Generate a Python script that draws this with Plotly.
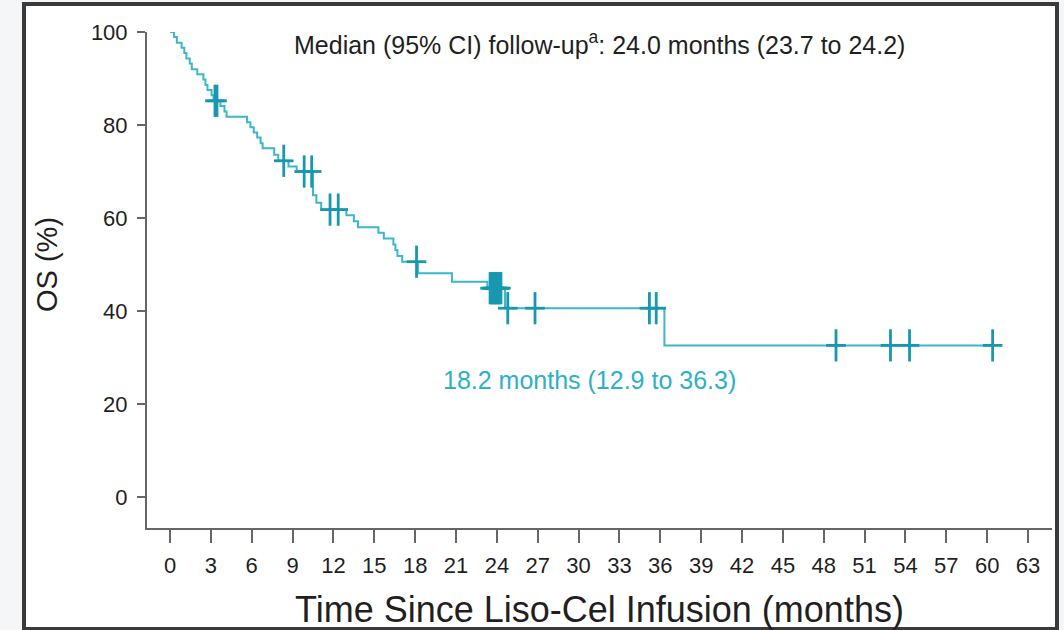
import plotly.graph_objects as go

# Kaplan-Meier overall survival: event times (months) and survival (%) after each step
event_months = [0.3, 0.5, 0.85, 1.05, 1.2, 1.45, 1.6, 2.0, 2.45, 2.6, 2.75, 3.05, 3.2,
                3.7, 4.0, 4.15, 5.65, 5.9, 6.15, 6.4, 6.65, 6.8, 7.65, 7.95, 8.7, 9.3,
                10.5, 10.75, 11.1, 12.95, 13.5, 13.8, 15.3, 15.7, 16.4, 16.55, 16.7, 17.05,
                18.2, 20.7, 23.3, 24.6, 36.3]
event_surv = [98.9, 97.7, 96.6, 95.5, 94.3, 93.2, 92.0, 90.9, 89.8, 88.6, 87.5, 86.4, 85.2,
              84.1, 82.9, 81.8, 80.6, 79.5, 78.4, 77.3, 76.1, 75.0, 73.6, 72.3, 71.1, 70.0,
              64.9, 63.3, 61.8, 60.6, 59.3, 58.0, 56.8, 55.6, 54.3, 53.1, 51.8, 50.6,
              48.1, 46.3, 44.9, 40.6, 32.6]
last_month = 60.4

# Censored observations
censor_months = [3.3, 3.45, 8.35, 9.85, 10.4, 11.75, 12.35, 18.1,
                 23.5, 23.6, 23.7, 23.8, 23.9, 24.0, 24.1, 24.2, 24.3,
                 24.8, 26.8, 35.2, 35.7, 48.9, 52.9, 54.3, 60.4]
censor_surv = [85.2, 85.2, 72.3, 70.0, 70.0, 61.8, 61.8, 50.6,
               44.9, 44.9, 44.9, 44.9, 44.9, 44.9, 44.9, 44.9, 44.9,
               40.6, 40.6, 40.6, 40.6, 32.6, 32.6, 32.6, 32.6]

x_ticks = list(range(0, 64, 3))
y_ticks = [0, 20, 40, 60, 80, 100]

followup_text = "Median (95% CI) follow-up<sup>a</sup>: 24.0 months (23.7 to 24.2)"
median_text = "18.2 months (12.9 to 36.3)"

LINE = "#3cb6cb"
MARK = "#1798af"
FONT = "Liberation Sans, Arial, sans-serif"
TEXT = "#1f1f1f"

curve_x = [0] + event_months + [last_month]
curve_y = [100] + event_surv + [event_surv[-1]]

fig = go.Figure()
fig.add_trace(go.Scatter(x=curve_x, y=curve_y, mode="lines", line_shape="hv",
                         line=dict(color=LINE, width=2), hoverinfo="skip",
                         showlegend=False, cliponaxis=False))
fig.add_trace(go.Scatter(x=censor_months, y=censor_surv, mode="markers",
                         marker=dict(symbol="line-ns", size=23,
                                     line=dict(color=MARK, width=2.8)),
                         showlegend=False, cliponaxis=False))
fig.add_trace(go.Scatter(x=censor_months, y=censor_surv, mode="markers",
                         marker=dict(symbol="line-ew", size=14,
                                     line=dict(color=MARK, width=2.8)),
                         showlegend=False, cliponaxis=False))

L, R, T, B = 147, 12, 32, 102
W, H = 1064, 630
pw, ph = W - L - R, H - T - B


def px(xp):
    return (xp - L) / pw


def py(yp):
    return (H - B - yp) / ph


fig.add_shape(type="rect", xref="paper", yref="paper",
              x0=px(24), x1=px(1057), y0=py(629), y1=py(4),
              line=dict(color="#3a3a3a", width=4), fillcolor="white", layer="below")

fig.add_annotation(x=31.5, y=97.6, xref="x", yref="y", text=followup_text,
                   xanchor="center", yanchor="middle", showarrow=False,
                   font=dict(family=FONT, size=25, color=TEXT))
fig.add_annotation(x=30.8, y=25.2, xref="x", yref="y", text=median_text,
                   xanchor="center", yanchor="middle", showarrow=False,
                   font=dict(family=FONT, size=25, color="#2eb0c6"))
fig.add_annotation(x=px(599), y=py(609), xref="paper", yref="paper",
                   xanchor="center", yanchor="middle",
                   text="Time Since Liso-Cel Infusion (months)", showarrow=False,
                   font=dict(family=FONT, size=36, color=TEXT))
fig.add_annotation(x=px(47), y=py(265), xref="paper", yref="paper",
                   xanchor="center", yanchor="middle",
                   text="OS (%)", textangle=-90, showarrow=False,
                   font=dict(family=FONT, size=29, color=TEXT))

fig.update_layout(
    width=W, height=H, autosize=False,
    margin=dict(l=L, r=R, t=T, b=B, pad=0),
    paper_bgcolor="#f5f6f8", plot_bgcolor="white",
    font=dict(family=FONT, color=TEXT),
    xaxis=dict(range=[-1.69, 64.76], tickvals=x_ticks, ticks="outside", ticklen=13,
               tickwidth=2, tickcolor="#666666", showline=True, linecolor="#666666",
               linewidth=2, showgrid=False, zeroline=False,
               tickfont=dict(family=FONT, size=22, color=TEXT),
               ticklabelstandoff=4),
    yaxis=dict(range=[-6.67, 100], tickvals=y_ticks, ticks="outside", ticklen=8,
               tickwidth=2, tickcolor="#666666", showline=True, linecolor="#666666",
               linewidth=2, showgrid=False, zeroline=False,
               tickfont=dict(family=FONT, size=22, color=TEXT),
               ticklabelstandoff=5),
)

fig.write_html("out.html")
